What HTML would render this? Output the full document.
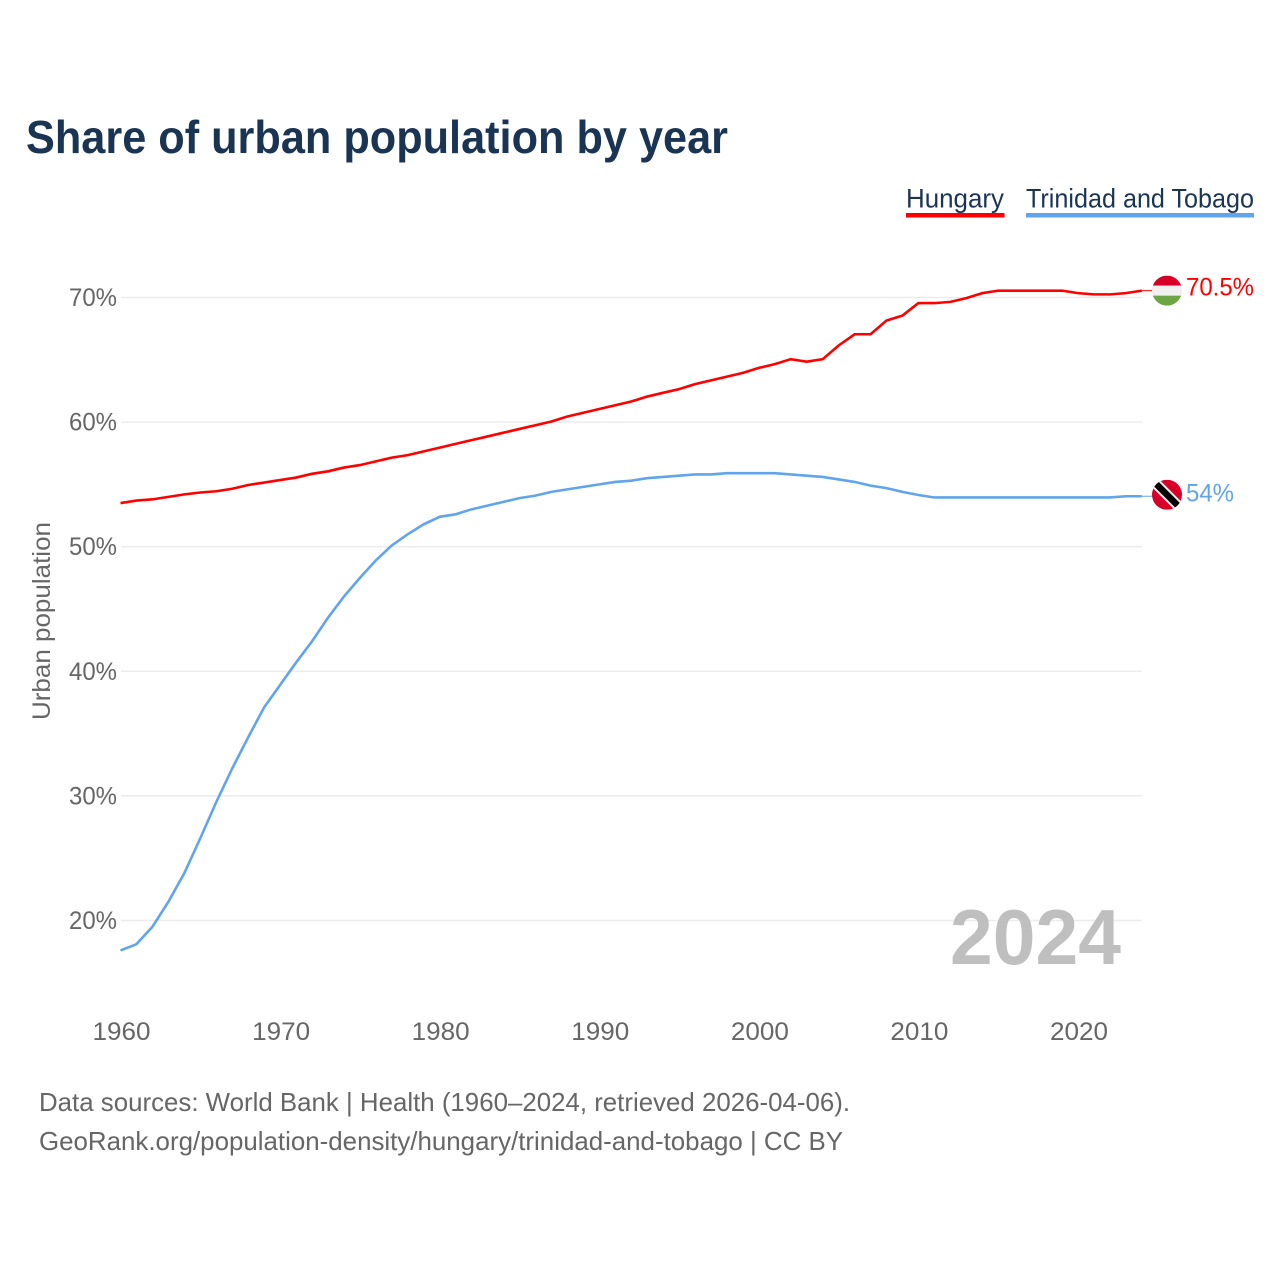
<!DOCTYPE html>
<html lang="en">
<head>
<meta charset="utf-8">
<title>Share of urban population by year</title>
<style>
html,body{margin:0;padding:0;background:#fff;width:1280px;height:1280px;overflow:hidden}
svg{display:block}
text{font-family:"Liberation Sans",sans-serif}
</style>
</head>
<body>
<svg id="chart" xmlns="http://www.w3.org/2000/svg" width="1280" height="1280" viewBox="0 0 1280 1280">
  <defs>
    <clipPath id="flag-clip-hu"><circle cx="0" cy="0" r="15"></circle></clipPath>
    <clipPath id="flag-clip-tt"><circle cx="0" cy="0" r="15"></circle></clipPath>
  </defs>
  <text x="26" y="153" font-size="46" font-weight="700" fill="#1a3454" textLength="702" lengthAdjust="spacingAndGlyphs">Share of urban population by year</text>

  <g>
    <g>
      <text x="906" y="207.5" font-size="27" fill="#1a3454" textLength="98" lengthAdjust="spacingAndGlyphs">Hungary</text>
      <rect x="906" y="213" width="98.5" height="4.5" fill="#ff0000"></rect>
    </g>
    <g>
      <text x="1026" y="207.5" font-size="27" fill="#1a3454" textLength="228" lengthAdjust="spacingAndGlyphs">Trinidad and Tobago</text>
      <rect x="1026" y="213" width="228" height="4.5" fill="#60a5ec"></rect>
    </g>
  </g>

  <g id="grid"></g>
  <g id="yticks"></g>
  <g id="xticks"></g>

  <text transform="translate(50,720) rotate(-90)" font-size="25" fill="#666666" textLength="198" lengthAdjust="spacingAndGlyphs">Urban population</text>

  <text x="950" y="964" font-size="78" font-weight="700" fill="#bfbfbf" textLength="171" lengthAdjust="spacingAndGlyphs">2024</text>

  <g id="series"></g>

  <g id="flag-hu">
    <g clip-path="url(#flag-clip-hu)">
      <rect x="-15" y="-15" width="30" height="10" fill="#d80027"></rect>
      <rect x="-15" y="-5" width="30" height="10" fill="#f0f0f0"></rect>
      <rect x="-15" y="5" width="30" height="10" fill="#6da544"></rect>
    </g>
  </g>
  <g id="flag-tt">
    <g clip-path="url(#flag-clip-tt)">
      <rect x="-15" y="-15" width="30" height="30" fill="#d80027"></rect>
      <line x1="-16" y1="-16" x2="16" y2="16" stroke="#f0f0f0" stroke-width="10.5"></line>
      <line x1="-16" y1="-16" x2="16" y2="16" stroke="#000000" stroke-width="6.5"></line>
    </g>
  </g>

  <text id="label-hu" x="1186" font-size="25" fill="#ff0000" textLength="68" lengthAdjust="spacingAndGlyphs"></text>
  <text id="label-tt" x="1186" font-size="25" fill="#60a5ec" textLength="48" lengthAdjust="spacingAndGlyphs"></text>

  <text x="39" y="1111" font-size="26" fill="#666666" textLength="811" lengthAdjust="spacingAndGlyphs">Data sources: World Bank | Health (1960–2024, retrieved 2026-04-06).</text>
  <text x="39" y="1150" font-size="26" fill="#666666" textLength="804" lengthAdjust="spacingAndGlyphs">GeoRank.org/population-density/hungary/trinidad-and-tobago | CC BY</text>
</svg>
<script>
const years = [1960,1961,1962,1963,1964,1965,1966,1967,1968,1969,1970,1971,1972,1973,1974,1975,1976,1977,1978,1979,1980,1981,1982,1983,1984,1985,1986,1987,1988,1989,1990,1991,1992,1993,1994,1995,1996,1997,1998,1999,2000,2001,2002,2003,2004,2005,2006,2007,2008,2009,2010,2011,2012,2013,2014,2015,2016,2017,2018,2019,2020,2021,2022,2023,2024];
const hungaryValues = [53.5,53.7,53.8,54.0,54.2,54.35,54.45,54.65,54.95,55.15,55.35,55.55,55.85,56.05,56.35,56.55,56.85,57.15,57.35,57.65,57.95,58.25,58.55,58.85,59.15,59.45,59.75,60.05,60.45,60.75,61.05,61.35,61.65,62.05,62.35,62.65,63.05,63.35,63.65,63.95,64.35,64.65,65.05,64.85,65.05,66.15,67.05,67.05,68.15,68.55,69.55,69.55,69.65,69.95,70.35,70.55,70.55,70.55,70.55,70.55,70.35,70.25,70.25,70.35,70.55];
const trinidadValues = [17.6,18.1,19.5,21.5,23.8,26.6,29.5,32.2,34.7,37.1,38.9,40.7,42.4,44.3,46.0,47.5,48.9,50.1,51.0,51.8,52.4,52.6,53.0,53.3,53.6,53.9,54.1,54.4,54.6,54.8,55.0,55.2,55.3,55.5,55.6,55.7,55.8,55.8,55.9,55.9,55.9,55.9,55.8,55.7,55.6,55.4,55.2,54.9,54.7,54.4,54.15,53.95,53.95,53.95,53.95,53.95,53.95,53.95,53.95,53.95,53.95,53.95,53.95,54.05,54.05];
const yTickValues = [20,30,40,50,60,70];
const xTickValues = [1960,1970,1980,1990,2000,2010,2020];
const hungaryEndLabel = "70.5%";
const trinidadEndLabel = "54%";

const SVG_NS = "http://www.w3.org/2000/svg";
function xScale(year){ return 120.5 + (year - 1960) * (1078 - 120.5) / 60; }
function yScale(value){ return 920.5 - (value - 20) * (920.5 - 297.5) / 50; }

const grid = document.getElementById("grid");
const yticks = document.getElementById("yticks");
const xticks = document.getElementById("xticks");
const series = document.getElementById("series");

yTickValues.forEach(function(v){
  const line = document.createElementNS(SVG_NS, "line");
  
  
  line.setAttribute("x1", 121);
  line.setAttribute("x2", 1142);
  line.setAttribute("y1", yScale(v));
  line.setAttribute("y2", yScale(v));
  line.setAttribute("stroke", "#ececec");
  line.setAttribute("stroke-width", "1.5");
  grid.appendChild(line);

  const label = document.createElementNS(SVG_NS, "text");
  
  
  label.setAttribute("x", 69);
  label.setAttribute("y", yScale(v) + 8.5);
  label.setAttribute("font-size", "25");
  label.setAttribute("fill", "#666666");
  label.setAttribute("textLength", "48");
  label.setAttribute("lengthAdjust", "spacingAndGlyphs");
  label.textContent = v + "%";
  yticks.appendChild(label);
});

xTickValues.forEach(function(y){
  const label = document.createElementNS(SVG_NS, "text");
  
  
  label.setAttribute("x", xScale(y) - 28);
  label.setAttribute("y", 1040);
  label.setAttribute("font-size", "25");
  label.setAttribute("fill", "#666666");
  label.setAttribute("textLength", "58");
  label.setAttribute("lengthAdjust", "spacingAndGlyphs");
  label.textContent = y;
  xticks.appendChild(label);
});

function pathFor(values){
  return values.map(function(v, i){
    return xScale(years[i]).toFixed(2) + "," + yScale(v).toFixed(2);
  }).join(" ");
}

const hungaryLine = document.createElementNS(SVG_NS, "polyline");


hungaryLine.setAttribute("points", pathFor(hungaryValues));
hungaryLine.setAttribute("fill", "none");
hungaryLine.setAttribute("stroke", "#ff0000");
hungaryLine.setAttribute("stroke-width", "2.6");
series.appendChild(hungaryLine);

const trinidadLine = document.createElementNS(SVG_NS, "polyline");


trinidadLine.setAttribute("points", pathFor(trinidadValues));
trinidadLine.setAttribute("fill", "none");
trinidadLine.setAttribute("stroke", "#60a5ec");
trinidadLine.setAttribute("stroke-width", "2.6");
series.appendChild(trinidadLine);

const lastIndex = years.length - 1;
const huEndY = yScale(hungaryValues[lastIndex]);
const ttEndY = yScale(trinidadValues[lastIndex]);
const endX = xScale(years[lastIndex]);

const hungaryConnector = document.createElementNS(SVG_NS, "line");


hungaryConnector.setAttribute("x1", endX);
hungaryConnector.setAttribute("x2", 1153);
hungaryConnector.setAttribute("y1", huEndY);
hungaryConnector.setAttribute("y2", huEndY);
hungaryConnector.setAttribute("stroke", "#ff0000");
hungaryConnector.setAttribute("stroke-width", "1");
series.appendChild(hungaryConnector);

const trinidadConnector = document.createElementNS(SVG_NS, "line");


trinidadConnector.setAttribute("x1", endX);
trinidadConnector.setAttribute("x2", 1153);
trinidadConnector.setAttribute("y1", ttEndY);
trinidadConnector.setAttribute("y2", ttEndY);
trinidadConnector.setAttribute("stroke", "#60a5ec");
trinidadConnector.setAttribute("stroke-width", "1");
series.appendChild(trinidadConnector);

document.getElementById("flag-hu").setAttribute("transform", "translate(1167," + huEndY + ")");
document.getElementById("flag-tt").setAttribute("transform", "translate(1167," + (ttEndY - 1.5) + ")");

const labelHu = document.getElementById("label-hu");
labelHu.setAttribute("y", huEndY + 5);
labelHu.textContent = hungaryEndLabel;
const labelTt = document.getElementById("label-tt");
labelTt.setAttribute("y", ttEndY + 5.5);
labelTt.textContent = trinidadEndLabel;
</script>
</body>
</html>
